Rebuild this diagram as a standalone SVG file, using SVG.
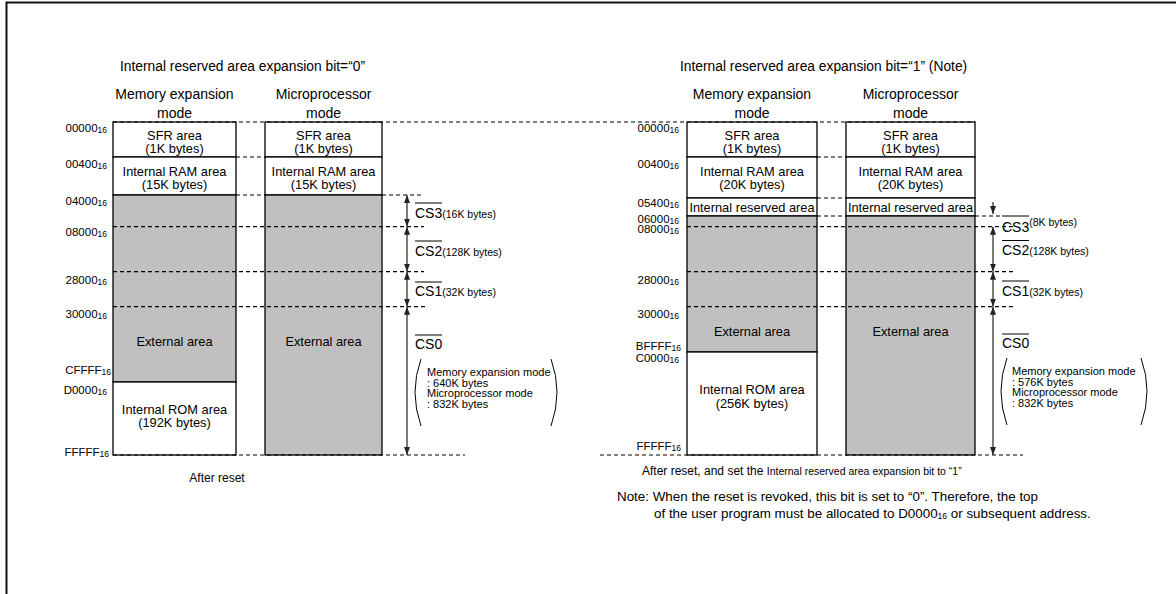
<svg xmlns="http://www.w3.org/2000/svg" width="1176" height="594" viewBox="0 0 1176 594">
<style>
.t{font-family:"Liberation Sans",Arial,sans-serif;fill:#000}
.title{font-size:13.8px}
.mode{font-size:14px;text-anchor:middle}
.bt{font-size:12.8px;text-anchor:middle}
.addr{font-size:11.5px;text-anchor:end}
.sub{font-size:8.5px}
.cs{font-size:14px}
.csn{font-size:10.5px}
.pt{font-size:11px}
.small{font-size:10.5px}
.note{font-size:13.4px}
.w{fill:#fff;stroke:#000;stroke-width:1.3}
.g{fill:#c0c0c0;stroke:#000;stroke-width:1.3}
.d{stroke:#000;stroke-width:1.2;stroke-dasharray:4 3;fill:none}
.ol{stroke:#000;stroke-width:1}
.a{stroke:#222;stroke-width:1.2;fill:none;marker-start:url(#ah);marker-end:url(#ah)}
.a1{stroke:#222;stroke-width:1.2;fill:none;marker-end:url(#ah)}
.p{stroke:#000;stroke-width:1;fill:none}
</style>
<defs>
<marker id="ah" viewBox="0 0 8 6" refX="8" refY="3" markerWidth="8" markerHeight="6" markerUnits="userSpaceOnUse" orient="auto-start-reverse"><path d="M0,0 L8,3 L0,6 z" fill="#222"/></marker>
</defs>
<path d="M6.5,594 V2.5 H1176" stroke="#111" stroke-width="2" fill="none"/>

<g id="titles">
<text class="t title" x="120" y="71">Internal reserved area expansion bit=“0”</text>
<text class="t title" x="680" y="71">Internal reserved area expansion bit=“1” (Note)</text>
<text class="t mode" x="174.5" y="99">Memory expansion</text>
<text class="t mode" x="174.5" y="118">mode</text>
<text class="t mode" x="323.5" y="99">Microprocessor</text>
<text class="t mode" x="323.5" y="118">mode</text>
<text class="t mode" x="752" y="99">Memory expansion</text>
<text class="t mode" x="752" y="118">mode</text>
<text class="t mode" x="910.5" y="99">Microprocessor</text>
<text class="t mode" x="910.5" y="118">mode</text>
</g>

<g id="left-memory-expansion">
<rect class="w" x="113" y="122" width="123" height="35"/>
<rect class="w" x="113" y="157" width="123" height="38"/>
<rect class="g" x="113" y="195" width="123" height="187"/>
<rect class="w" x="113" y="382" width="123" height="73"/>
<text class="t bt" x="174.5" y="139.5">SFR area</text>
<text class="t bt" x="174.5" y="152.5">(1K bytes)</text>
<text class="t bt" x="174.5" y="175.5">Internal RAM area</text>
<text class="t bt" x="174.5" y="188.5">(15K bytes)</text>
<text class="t bt" x="174.5" y="345.5">External area</text>
<text class="t bt" x="174.5" y="413.5">Internal ROM area</text>
<text class="t bt" x="174.5" y="426.5">(192K bytes)</text>
</g>

<g id="left-microprocessor">
<rect class="w" x="265" y="122" width="117" height="35"/>
<rect class="w" x="265" y="157" width="117" height="38"/>
<rect class="g" x="265" y="195" width="117" height="260"/>
<text class="t bt" x="323.5" y="139.5">SFR area</text>
<text class="t bt" x="323.5" y="152.5">(1K bytes)</text>
<text class="t bt" x="323.5" y="175.5">Internal RAM area</text>
<text class="t bt" x="323.5" y="188.5">(15K bytes)</text>
<text class="t bt" x="323.5" y="345.5">External area</text>
</g>

<g id="left-addresses">
<text class="t addr" x="107" y="132">00000<tspan class="sub" dy="1">16</tspan></text>
<text class="t addr" x="107" y="168">00400<tspan class="sub" dy="1">16</tspan></text>
<text class="t addr" x="107" y="205">04000<tspan class="sub" dy="1">16</tspan></text>
<text class="t addr" x="107" y="236">08000<tspan class="sub" dy="1">16</tspan></text>
<text class="t addr" x="107" y="284">28000<tspan class="sub" dy="1">16</tspan></text>
<text class="t addr" x="107" y="318">30000<tspan class="sub" dy="1">16</tspan></text>
<text class="t addr" x="111" y="374">CFFFF<tspan class="sub" dy="1">16</tspan></text>
<text class="t addr" x="107" y="394">D0000<tspan class="sub" dy="1">16</tspan></text>
<text class="t addr" x="109" y="456">FFFFF<tspan class="sub" dy="1">16</tspan></text>
</g>

<g id="right-memory-expansion">
<rect class="w" x="687" y="122" width="130" height="35"/>
<rect class="w" x="687" y="157" width="130" height="41"/>
<rect class="w" x="687" y="198" width="130" height="18"/>
<rect class="g" x="687" y="216" width="130" height="136"/>
<rect class="w" x="687" y="352" width="130" height="103"/>
<text class="t bt" x="752" y="139.5">SFR area</text>
<text class="t bt" x="752" y="152.5">(1K bytes)</text>
<text class="t bt" x="752" y="175.5">Internal RAM area</text>
<text class="t bt" x="752" y="188.5">(20K bytes)</text>
<text class="t bt" x="752" y="211.5">Internal reserved area</text>
<text class="t bt" x="752" y="335.5">External area</text>
<text class="t bt" x="752" y="393.5">Internal ROM area</text>
<text class="t bt" x="752" y="407.5">(256K bytes)</text>
</g>

<g id="right-microprocessor">
<rect class="w" x="846" y="122" width="129" height="35"/>
<rect class="w" x="846" y="157" width="129" height="41"/>
<rect class="w" x="846" y="198" width="129" height="18"/>
<rect class="g" x="846" y="216" width="129" height="239"/>
<text class="t bt" x="910.5" y="139.5">SFR area</text>
<text class="t bt" x="910.5" y="152.5">(1K bytes)</text>
<text class="t bt" x="910.5" y="175.5">Internal RAM area</text>
<text class="t bt" x="910.5" y="188.5">(20K bytes)</text>
<text class="t bt" x="910.5" y="211.5">Internal reserved area</text>
<text class="t bt" x="910.5" y="335.5">External area</text>
</g>

<g id="right-addresses">
<text class="t addr" x="679" y="132">00000<tspan class="sub" dy="1">16</tspan></text>
<text class="t addr" x="679" y="168">00400<tspan class="sub" dy="1">16</tspan></text>
<text class="t addr" x="679" y="206.5">05400<tspan class="sub" dy="1">16</tspan></text>
<text class="t addr" x="679" y="223">06000<tspan class="sub" dy="1">16</tspan></text>
<text class="t addr" x="679" y="233">08000<tspan class="sub" dy="1">16</tspan></text>
<text class="t addr" x="679" y="284">28000<tspan class="sub" dy="1">16</tspan></text>
<text class="t addr" x="679" y="318">30000<tspan class="sub" dy="1">16</tspan></text>
<text class="t addr" x="681" y="350">BFFFF<tspan class="sub" dy="1">16</tspan></text>
<text class="t addr" x="679" y="362">C0000<tspan class="sub" dy="1">16</tspan></text>
<text class="t addr" x="681" y="450">FFFFF<tspan class="sub" dy="1">16</tspan></text>
</g>

<g id="guides">
<line class="d" x1="113" y1="122" x2="975" y2="122"/>
<line class="d" x1="236" y1="157" x2="265" y2="157"/>
<line class="d" x1="236" y1="195" x2="265" y2="195"/>
<line class="d" x1="382" y1="195" x2="424" y2="195"/>
<line class="d" x1="113" y1="226.7" x2="424" y2="226.7"/>
<line class="d" x1="113" y1="271.7" x2="424" y2="271.7"/>
<line class="d" x1="113" y1="306.7" x2="428" y2="306.7"/>
<line class="d" x1="113" y1="455" x2="465" y2="455"/>
<line class="d" x1="817" y1="157" x2="846" y2="157"/>
<line class="d" x1="817" y1="198" x2="846" y2="198"/>
<line class="d" x1="817" y1="216" x2="846" y2="216"/>
<line class="d" x1="975" y1="216" x2="1001" y2="216"/>
<line class="d" x1="687" y1="226.7" x2="1015" y2="226.7"/>
<line class="d" x1="687" y1="271.7" x2="1015" y2="271.7"/>
<line class="d" x1="687" y1="306.7" x2="1015" y2="306.7"/>
<line class="d" x1="600" y1="455" x2="1023" y2="455"/>
</g>

<g id="connectors">
<line class="a" x1="407" y1="195" x2="407" y2="226.7"/>
<line class="a" x1="407" y1="226.7" x2="407" y2="271.7"/>
<line class="a" x1="407" y1="271.7" x2="407" y2="306.7"/>
<line class="a" x1="407" y1="306.7" x2="407" y2="455"/>
<line class="a1" x1="993" y1="202" x2="993" y2="214"/>
<line class="a" x1="993" y1="226.7" x2="993" y2="271.7"/>
<line class="a" x1="993" y1="271.7" x2="993" y2="306.7"/>
<line class="a" x1="993" y1="306.7" x2="993" y2="455"/>
</g>

<g id="left-cs-labels">
<line class="ol" x1="415" y1="203" x2="442" y2="203"/>
<text class="t cs" x="415" y="217.5">CS3<tspan class="csn">(16K bytes)</tspan></text>
<line class="ol" x1="415" y1="241" x2="442" y2="241"/>
<text class="t cs" x="415" y="255.5">CS2<tspan class="csn">(128K bytes)</tspan></text>
<line class="ol" x1="415" y1="282" x2="442" y2="282"/>
<text class="t cs" x="415" y="296">CS1<tspan class="csn">(32K bytes)</tspan></text>
<line class="ol" x1="415" y1="335" x2="442" y2="335"/>
<text class="t cs" x="415" y="349">CS0</text>
<path class="p" d="M421,359 Q409,392 421,426"/>
<path class="p" d="M551,359 Q563,392 551,426"/>
<text class="t pt" x="427" y="376">Memory expansion mode</text>
<text class="t pt" x="427" y="386.5">: 640K bytes</text>
<text class="t pt" x="427" y="397">Microprocessor mode</text>
<text class="t pt" x="427" y="407.5">: 832K bytes</text>
</g>

<g id="right-cs-labels">
<line class="ol" x1="1002" y1="216" x2="1029" y2="216"/>
<text class="t cs" x="1002" y="232">CS3<tspan class="csn" dy="-6">(8K bytes)</tspan></text>
<line class="ol" x1="1002" y1="240.5" x2="1029" y2="240.5"/>
<text class="t cs" x="1002" y="255">CS2<tspan class="csn">(128K bytes)</tspan></text>
<line class="ol" x1="1002" y1="281" x2="1029" y2="281"/>
<text class="t cs" x="1002" y="295.5">CS1<tspan class="csn">(32K bytes)</tspan></text>
<line class="ol" x1="1002" y1="334" x2="1029" y2="334"/>
<text class="t cs" x="1002" y="348">CS0</text>
<path class="p" d="M1007,358 Q995,391 1007,425"/>
<path class="p" d="M1141,358 Q1153,391 1141,425"/>
<text class="t pt" x="1012" y="375">Memory expansion mode</text>
<text class="t pt" x="1012" y="385.5">: 576K bytes</text>
<text class="t pt" x="1012" y="396">Microprocessor mode</text>
<text class="t pt" x="1012" y="406.5">: 832K bytes</text>
</g>

<g id="captions">
<text class="t" font-size="12" x="217" y="482" text-anchor="middle">After reset</text>
<text class="t" font-size="12" x="642" y="475">After reset, and set the <tspan class="small">Internal reserved area expansion bit to “1”</tspan></text>
<text class="t note" x="617" y="501">Note: When the reset is revoked, this bit is set to “0”. Therefore, the top</text>
<text class="t note" x="654" y="518">of the user program must be allocated to D0000<tspan class="sub" font-size="9.5" dy="1">16</tspan><tspan dy="-1"> or subsequent address.</tspan></text>
</g>
</svg>
